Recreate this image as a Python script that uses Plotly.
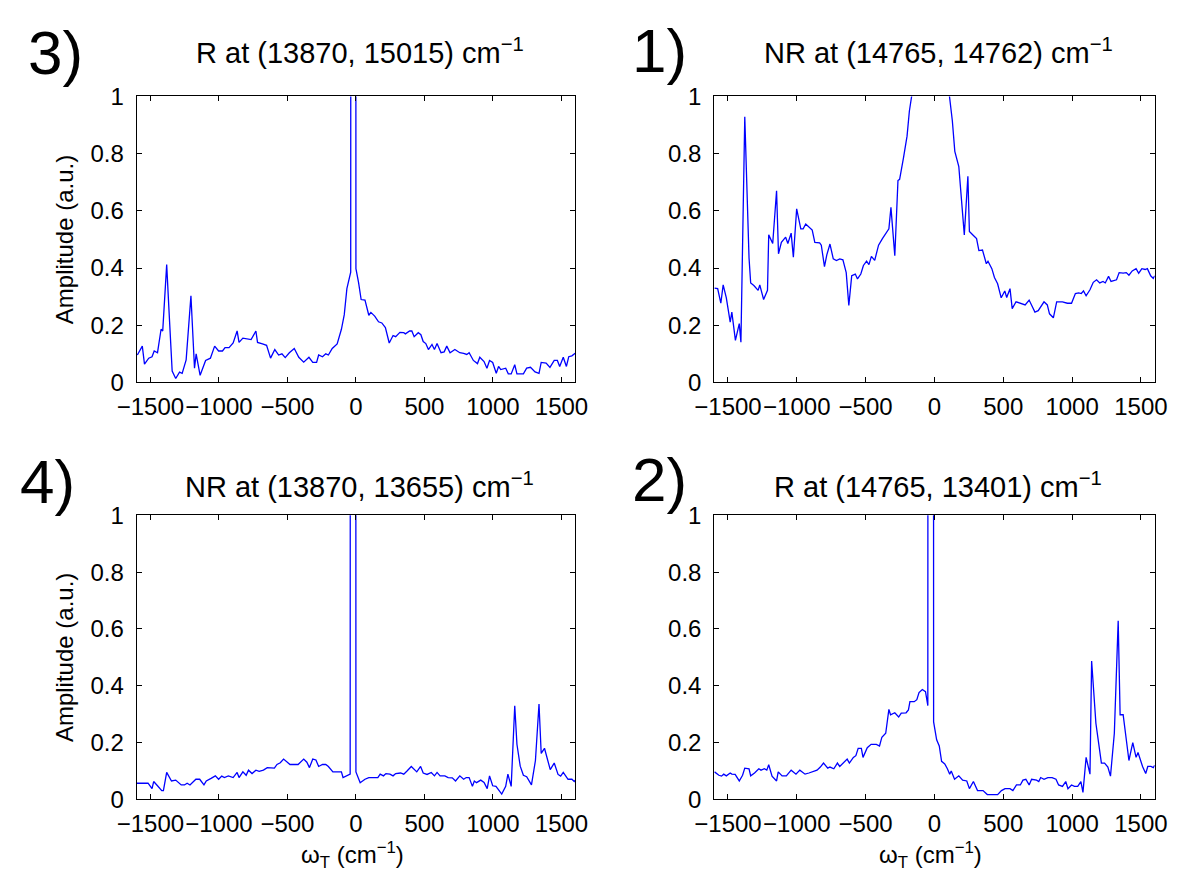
import plotly.graph_objects as go

W, H = 1191, 890

# ---------------- data ----------------
x3 = [-1595,-1559,-1543,-1512,-1488,-1472,-1448,-1422,-1410,-1381,-1365,-1341,-1315,-1287,-1268,-1239,-1204,-1192,-1178,-1166,-1137,-1097,-1062,-1031,-1002,-974,-955,-926,-896,-867,-853,-825,-794,-765,-730,-718,-682,-652,-623,-592,-564,-540,-516,-486,-450,-417,-381,-343,-315,-287,-272,-244,-220,-201,-173,-137,-106,-85,-66,-38,-20,0,19,38,66,94,109,137,165,189,215,243,271,290,321,349,361,392,408,425,455,474,491,510,529,555,573,592,621,644,663,687,722,758,786,809,826,857,887,904,935,956,975,998,1024,1041,1057,1093,1112,1133,1159,1175,1222,1246,1274,1307,1336,1352,1388,1416,1447,1470,1487,1513,1536,1553,1576,1600]
y3 = [0.096,0.127,0.064,0.085,0.090,0.110,0.104,0.186,0.180,0.412,0.260,0.040,0.014,0.036,0.032,0.079,0.303,0.190,0.050,0.100,0.025,0.077,0.085,0.127,0.110,0.110,0.122,0.122,0.138,0.180,0.140,0.155,0.152,0.150,0.180,0.140,0.135,0.130,0.085,0.115,0.096,0.100,0.087,0.104,0.119,0.088,0.071,0.088,0.070,0.070,0.096,0.090,0.100,0.096,0.119,0.135,0.186,0.237,0.328,0.386,40.0,0.398,0.350,0.290,0.288,0.235,0.245,0.232,0.212,0.208,0.192,0.138,0.164,0.160,0.175,0.174,0.170,0.180,0.180,0.160,0.174,0.167,0.143,0.136,0.115,0.133,0.115,0.136,0.104,0.107,0.127,0.104,0.115,0.104,0.102,0.098,0.104,0.077,0.066,0.088,0.073,0.050,0.077,0.070,0.032,0.056,0.045,0.050,0.030,0.030,0.062,0.030,0.030,0.050,0.053,0.037,0.032,0.070,0.068,0.053,0.077,0.077,0.056,0.088,0.056,0.090,0.093,0.102]

x1 = [-1598,-1575,-1552,-1535,-1512,-1484,-1472,-1446,-1418,-1406,-1378,-1347,-1335,-1312,-1281,-1269,-1241,-1213,-1204,-1175,-1147,-1133,-1112,-1081,-1065,-1041,-1025,-1001,-971,-954,-935,-912,-888,-869,-834,-822,-799,-782,-759,-735,-712,-688,-665,-641,-622,-601,-575,-559,-535,-516,-493,-476,-458,-434,-406,-378,-347,-331,-316,-288,-265,-253,-225,-199,-182,-150,-100,-40,20,80,130,148,177,217,243,254,283,306,323,349,377,389,417,436,459,485,511,525,549,565,593,629,659,688,730,754,796,820,836,864,888,930,966,996,1024,1048,1067,1083,1102,1130,1154,1178,1201,1225,1241,1265,1283,1323,1342,1371,1394,1413,1437,1465,1484,1507,1531,1547,1571,1590,1600]
y1 = [0.330,0.328,0.277,0.341,0.296,0.211,0.246,0.147,0.206,0.141,0.929,0.435,0.348,0.339,0.322,0.341,0.290,0.322,0.516,0.486,0.670,0.450,0.490,0.508,0.486,0.522,0.438,0.607,0.537,0.537,0.554,0.545,0.533,0.490,0.488,0.480,0.405,0.446,0.484,0.432,0.426,0.432,0.429,0.384,0.269,0.373,0.379,0.362,0.379,0.409,0.424,0.412,0.441,0.427,0.480,0.503,0.525,0.537,0.612,0.443,0.706,0.710,0.785,0.861,0.949,1.05,1.15,1.25,1.25,1.12,0.915,0.808,0.755,0.516,0.721,0.528,0.514,0.503,0.461,0.463,0.415,0.424,0.398,0.367,0.345,0.296,0.320,0.297,0.328,0.258,0.282,0.277,0.271,0.288,0.246,0.251,0.282,0.271,0.240,0.226,0.282,0.282,0.277,0.277,0.311,0.313,0.311,0.320,0.303,0.324,0.350,0.359,0.348,0.353,0.348,0.371,0.353,0.359,0.384,0.382,0.384,0.375,0.390,0.398,0.382,0.398,0.395,0.398,0.373,0.364,0.373]

x4 = [-1598,-1517,-1488,-1476,-1448,-1417,-1405,-1381,-1346,-1315,-1275,-1251,-1232,-1211,-1168,-1140,-1109,-1092,-1057,-1026,-1002,-979,-960,-931,-896,-867,-853,-825,-801,-784,-758,-730,-706,-675,-647,-595,-576,-552,-528,-505,-481,-422,-381,-358,-339,-315,-292,-272,-244,-220,-201,-168,-106,-94,-42,-20,0,31,66,94,160,177,201,219,248,271,290,326,349,373,404,444,472,491,519,550,573,592,614,649,673,703,727,758,786,805,826,850,864,880,911,935,958,975,998,1022,1046,1064,1093,1109,1133,1159,1175,1199,1222,1246,1281,1310,1336,1352,1376,1399,1418,1447,1475,1494,1513,1548,1576,1593,1600]
y4 = [0.057,0.057,0.038,0.063,0.048,0.031,0.031,0.095,0.065,0.068,0.051,0.051,0.057,0.051,0.071,0.071,0.051,0.065,0.074,0.083,0.071,0.082,0.077,0.083,0.077,0.095,0.077,0.097,0.085,0.103,0.091,0.103,0.099,0.103,0.112,0.110,0.123,0.129,0.142,0.134,0.123,0.123,0.142,0.131,0.112,0.142,0.139,0.116,0.123,0.123,0.116,0.097,0.097,0.077,0.089,40.0,0.097,0.059,0.071,0.077,0.077,0.089,0.083,0.091,0.089,0.083,0.091,0.093,0.089,0.100,0.116,0.097,0.116,0.093,0.088,0.095,0.083,0.095,0.083,0.083,0.077,0.076,0.065,0.083,0.071,0.077,0.077,0.046,0.065,0.059,0.068,0.060,0.038,0.083,0.048,0.046,0.031,0.019,0.046,0.089,0.046,0.330,0.194,0.117,0.085,0.080,0.051,0.137,0.336,0.162,0.180,0.137,0.105,0.128,0.088,0.082,0.095,0.071,0.071,0.063,0.068]

x2 = [-1598,-1566,-1547,-1531,-1512,-1484,-1472,-1448,-1418,-1394,-1378,-1347,-1335,-1307,-1276,-1260,-1236,-1218,-1204,-1180,-1147,-1135,-1107,-1076,-1041,-1006,-978,-940,-912,-884,-853,-829,-806,-775,-759,-731,-705,-688,-653,-634,-618,-589,-571,-554,-531,-519,-488,-460,-422,-399,-382,-354,-331,-319,-288,-260,-241,-206,-189,-178,-147,-128,-112,-88,-65,-48,-27,-6,16,35,52,75,94,111,122,146,177,205,235,254,283,313,353,384,459,487,513,549,570,596,624,643,664,688,706,742,758,772,796,824,855,883,902,930,954,970,996,1017,1041,1064,1079,1102,1130,1142,1173,1213,1236,1260,1279,1307,1335,1349,1371,1394,1413,1441,1465,1479,1512,1535,1550,1573,1590,1600]
y2 = [0.097,0.085,0.082,0.089,0.083,0.093,0.089,0.088,0.065,0.085,0.110,0.108,0.083,0.093,0.108,0.103,0.108,0.103,0.122,0.082,0.065,0.097,0.083,0.083,0.103,0.089,0.103,0.089,0.093,0.097,0.103,0.114,0.128,0.110,0.114,0.108,0.128,0.116,0.131,0.142,0.128,0.148,0.154,0.180,0.180,0.148,0.182,0.194,0.194,0.188,0.219,0.233,0.317,0.298,0.305,0.290,0.304,0.305,0.315,0.344,0.344,0.351,0.376,0.387,0.379,0.330,40.0,0.273,0.210,0.188,0.134,0.125,0.108,0.089,0.100,0.071,0.083,0.068,0.065,0.038,0.063,0.031,0.031,0.017,0.017,0.031,0.038,0.038,0.031,0.051,0.051,0.068,0.071,0.051,0.071,0.068,0.063,0.077,0.071,0.077,0.077,0.071,0.051,0.046,0.063,0.038,0.051,0.046,0.046,0.063,0.025,0.148,0.089,0.487,0.268,0.128,0.128,0.114,0.082,0.233,0.629,0.298,0.298,0.216,0.137,0.200,0.148,0.165,0.116,0.091,0.116,0.116,0.112,0.120]

titles = ["R at (13870, 15015) cm<sup>\u22121</sup>",
          "NR at (14765, 14762) cm<sup>\u22121</sup>",
          "NR at (13870, 13655) cm<sup>\u22121</sup>",
          "R at (14765, 13401) cm<sup>\u22121</sup>"]
panel_labels = ["3)", "1)", "4)", "2)"]
xticks = [-1500, -1000, -500, 0, 500, 1000, 1500]
xticktext = ["\u22121500", "\u22121000", "\u2212500", "0", "500", "1000", "1500"]
yticks = [0, 0.2, 0.4, 0.6, 0.8, 1]
yticktext = ["0", "0.2", "0.4", "0.6", "0.8", "1"]
ylabel = "Amplitude (a.u.)"
xlabel = "\u03c9<sub>T</sub> (cm<sup>\u22121</sup>)"

series = [(x3, y3), (x1, y1), (x4, y4), (x2, y2)]

# ---------------- layout geometry (pixels) ----------------
boxes = [(120, 571, 85, 380), (714, 1167, 85, 380),
         (120, 571, 517, 810), (714, 1167, 517, 810)]
title_y = [38, 38, 486, 486]
label_pos = [(36, 40), (658, 38), (28, 482), (658, 480)]

def px(x):
    return x / W

def py(y):
    return 1 - y / H

FONT = "Liberation Sans, Arial, sans-serif"
TICK = 24

fig = go.Figure()
layout = dict(width=W, height=H, margin=dict(l=0, r=0, t=0, b=0),
              paper_bgcolor="white", plot_bgcolor="white", showlegend=False,
              font=dict(family=FONT, color="black", size=TICK))
annotations = []

for i, ((xs, ys), (l, r, t, b)) in enumerate(zip(series, boxes)):
    n = "" if i == 0 else str(i + 1)
    fig.add_trace(go.Scatter(x=xs, y=ys, mode="lines",
                             line=dict(color="#0000ff", width=1.3),
                             xaxis="x" + n, yaxis="y" + n, hoverinfo="skip"))
    common = dict(showgrid=False, zeroline=False, showline=True, linecolor="black",
                  linewidth=1, mirror="allticks", ticks="inside", ticklen=5,
                  tickcolor="black", tickwidth=1, tickangle=0,
                  tickfont=dict(family=FONT, size=TICK, color="black"))
    layout["xaxis" + n] = dict(domain=[px(l), px(r)], range=[-1600, 1600],
                               tickvals=xticks, ticktext=xticktext,
                               anchor="y" + n, ticklabelstandoff=3, **common)
    layout["yaxis" + n] = dict(domain=[py(b), py(t)], range=[0, 1],
                               tickvals=yticks, ticktext=yticktext,
                               anchor="x" + n, ticklabelstandoff=7, **common)
    cx = (l + r) / 2
    annotations.append(dict(text=titles[i], x=px(cx + 4), y=py(title_y[i]), xref="paper", yref="paper",
                            showarrow=False, xanchor="center", yanchor="middle",
                            font=dict(family=FONT, size=29, color="black")))
    lxp, lyp = label_pos[i]
    annotations.append(dict(text=panel_labels[i], x=px(lxp), y=py(lyp), xref="paper", yref="paper",
                            showarrow=False, xanchor="center", yanchor="middle",
                            font=dict(family=FONT, size=62, color="black")))
    if l < 300:
        annotations.append(dict(text=ylabel, x=px(46), y=py((t + b) / 2), xref="paper", yref="paper",
                                showarrow=False, textangle=-90, xanchor="center", yanchor="middle",
                                font=dict(family=FONT, size=24, color="black")))
    if t > 300:
        annotations.append(dict(text=xlabel, x=px(cx - 4), y=py(867), xref="paper", yref="paper",
                                showarrow=False, xanchor="center", yanchor="middle",
                                font=dict(family=FONT, size=24, color="black")))

layout["annotations"] = annotations
fig.update_layout(**layout)
fig.write_html("out.html")
